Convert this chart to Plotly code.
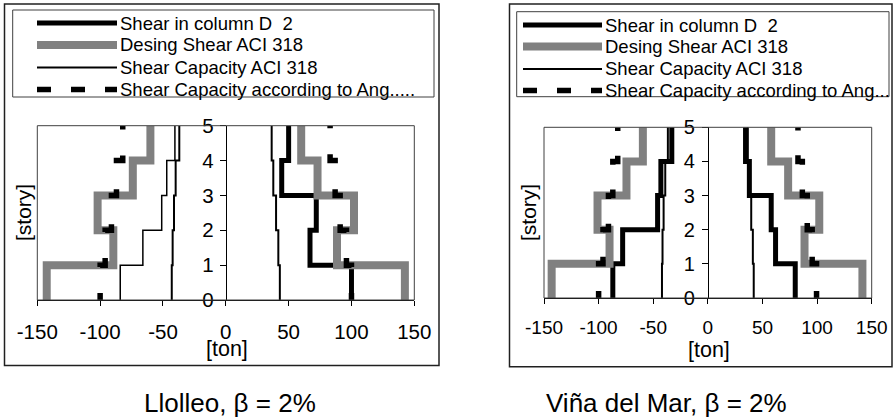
import plotly.graph_objects as go

# ---------------- data ----------------
stories = [0, 1, 2, 3, 4, 5]
tick_vals_x = [-150, -100, -50, 0, 50, 100, 150]
tick_text_x = ["-150", "-100", "-50", "0", "50", "100", "150"]
tick_vals_y = [0, 1, 2, 3, 4, 5]

series_names = ["Shear in column D\u00a0 2", "Desing Shear ACI 318",
                "Shear Capacity ACI 318", "Shear Capacity according to Ang....."]
series_names_R = ["Shear in column D\u00a0 2", "Desing Shear ACI 318",
                  "Shear Capacity ACI 318", "Shear Capacity according to Ang..."]

# Llolleo (values per story interval 0-1, 1-2, 2-3, 3-4, 4-5) [ton]
L_shear_pos = [100, 67, 72, 44.5, 50]
L_shear_neg = [-84, -66, -51, -47, -40.5]
L_design_pos = [142.5, 88.5, 102, 73, 60]
L_design_neg = [-142.5, -89.5, -102, -74, -60]
L_cap_pos = [43, 41.8, 40, 37.8, 36.5]
L_cap_neg = [-43, -42.3, -41.2, -39.9, -37]
L_ang_pos = [100, 96, 91, 87, 83]
L_ang_neg = [-100, -96, -91, -87, -82]

# Viña del Mar
R_shear_pos = [80, 62, 58, 38, 34.5]
R_shear_neg = [-87, -78, -46, -43, -33]
R_design_pos = [141.5, 88.5, 102, 73.5, 58]
R_design_neg = [-143, -90, -101, -74.5, -59.5]
R_cap_pos = [42, 41.2, 39.7, 38.2, 36.6]
R_cap_neg = [-42, -41.5, -40.5, -39, -36.6]
R_ang_pos = [99.5, 95.5, 91, 86.5, 82.5]
R_ang_neg = [-100, -96, -91, -87, -82.5]

titles = ["Llolleo, \u03b2 = 2%", "Vi\u00f1a del Mar, \u03b2 = 2%"]

# ---------------- helpers ----------------
W, H = 893, 420
FONT = "Liberation Sans, Arial, sans-serif"
GRAY = "#808080"


def fx(p):
    return p / W


def fy(p):
    return 1 - p / H


def step_xy(vals):
    return list(vals) + [vals[-1]], stories


fig = go.Figure()


def add_panel(xa, ya, shear_pos, shear_neg, design_pos, design_neg,
              cap_pos, cap_neg, ang_pos, ang_neg, neg_shear_width, dash):
    specs = [
        (shear_pos, "black", 5, "solid"),
        (shear_neg, "black", neg_shear_width, "solid"),
        (design_pos, GRAY, 8, "solid"),
        (design_neg, GRAY, 8, "solid"),
        (cap_pos, "black", 2, "solid"),
        (cap_neg, "black", 2, "solid"),
        (ang_pos, "black", 5.5, dash),
        (ang_neg, "black", 5.5, dash),
    ]
    for vals, col, w, d in specs:
        x, y = step_xy(vals)
        fig.add_trace(go.Scatter(x=x, y=y, mode="lines", line_shape="vh",
                                 line=dict(color=col, width=w, dash=d),
                                 xaxis=xa, yaxis=ya, showlegend=False,
                                 hoverinfo="skip"))


add_panel("x", "y", L_shear_pos, L_shear_neg, L_design_pos, L_design_neg,
          L_cap_pos, L_cap_neg, L_ang_pos, L_ang_neg, 1.5,
          "7px,26px,7px,0px")
add_panel("x2", "y2", R_shear_pos, R_shear_neg, R_design_pos, R_design_neg,
          R_cap_pos, R_cap_neg, R_ang_pos, R_ang_neg, 5,
          "7px,24.6px,7px,0px")

# plot area geometry (pixels)
L_box = (37.3, 414.3, 125.7, 300.0)
R_box = (544.0, 871.7, 127.3, 298.0)


def xaxis_cfg(box, anchor, fs, standoff):
    return dict(domain=[fx(box[0]), fx(box[1])], range=[-150, 150],
                tickvals=tick_vals_x, ticktext=tick_text_x, tickmode="array",
                ticks="outside", ticklen=5, ticklabelstandoff=standoff,
                tickcolor="black", showline=True, linecolor="black",
                linewidth=1, zeroline=False, showgrid=False, anchor=anchor,
                automargin=False,
                tickfont=dict(family=FONT, size=fs, color="black"),
                fixedrange=True)


def yaxis_cfg(box, fs, standoff):
    mid = (fx(box[0]) + fx(box[1])) / 2
    return dict(domain=[fy(box[3]), fy(box[2])], range=[0, 5],
                tickvals=tick_vals_y, tickmode="array", ticks="outside", ticklen=6,
                ticklabelstandoff=standoff,
                tickcolor="black", showline=True, linecolor="black",
                linewidth=1, zeroline=False, showgrid=False, anchor="free",
                position=mid, automargin=False,
                tickfont=dict(family=FONT, size=fs, color="black"),
                fixedrange=True)


shapes = []
annotations = []

# plot-area borders
for xr, yr in (("x domain", "y domain"), ("x2 domain", "y2 domain")):
    shapes.append(dict(type="rect", xref=xr, yref=yr, x0=0, x1=1, y0=0, y1=1,
                       line=dict(color="#404040", width=1), layer="above"))

# chart-area outer borders
for (x0, x1, y0, y1) in ((4.5, 439, 4, 365.5), (509.5, 892, 4, 366.7)):
    shapes.append(dict(type="rect", xref="paper", yref="paper",
                       x0=fx(x0), x1=fx(x1), y0=fy(y1), y1=fy(y0),
                       line=dict(color="#202020", width=1.5)))


def legend(box, sx0, sx1, rows, names, fs):
    shapes.append(dict(type="rect", xref="paper", yref="paper",
                       x0=fx(box[0]), x1=fx(box[1]), y0=fy(box[3]), y1=fy(box[2]),
                       line=dict(color="#404040", width=1)))
    styles = [("black", 5, "solid"), (GRAY, 8, "solid"), ("black", 2, "solid"),
              ("black", 5.5, "14px,20px")]
    for (col, w, d), yy, name in zip(styles, rows, names):
        shapes.append(dict(type="line", xref="paper", yref="paper",
                           x0=fx(sx0), x1=fx(sx1), y0=fy(yy), y1=fy(yy),
                           line=dict(color=col, width=w, dash=d)))
        annotations.append(dict(xref="paper", yref="paper", x=fx(sx1 + 1),
                                y=fy(yy), text=name, showarrow=False,
                                xanchor="left", yanchor="middle",
                                font=dict(family=FONT, size=fs, color="black")))


legend((12.7, 434, 10, 97), 37, 117, [23, 45, 67.5, 89.5], series_names, 18.5)
legend((516.7, 889, 11.7, 96.7), 523, 602, [25, 46.5, 69, 90.5], series_names_R, 18.5)

# axis titles
for x, y in ((23, 213), (528, 213)):
    annotations.append(dict(xref="paper", yref="paper", x=fx(x), y=fy(y),
                            text="[story]", textangle=-90, showarrow=False,
                            xanchor="center", yanchor="middle",
                            font=dict(family=FONT, size=21, color="black")))
for x, y in ((226.5, 349), (708.7, 350)):
    annotations.append(dict(xref="paper", yref="paper", x=fx(x), y=fy(y),
                            text="[ton]", showarrow=False,
                            xanchor="center", yanchor="middle",
                            font=dict(family=FONT, size=21.5, color="black")))

# panel titles
for x, t in ((229.7, titles[0]), (666, titles[1])):
    annotations.append(dict(xref="paper", yref="paper", x=fx(x), y=fy(403),
                            text=t, showarrow=False, xanchor="center",
                            yanchor="middle",
                            font=dict(family=FONT, size=26, color="black")))

fig.update_layout(
    template="none",
    width=W, height=H, margin=dict(l=0, r=0, t=0, b=0, autoexpand=False),
    font=dict(family=FONT, color="black"),
    paper_bgcolor="white", plot_bgcolor="rgba(0,0,0,0)",
    xaxis=xaxis_cfg(L_box, "y", 20.5, 8), yaxis=yaxis_cfg(L_box, 20.5, 2),
    xaxis2=xaxis_cfg(R_box, "y2", 19, 7), yaxis2=yaxis_cfg(R_box, 20, 3),
    shapes=shapes, annotations=annotations, showlegend=False,
)

fig.write_html("out.html", config={"displayModeBar": False})
